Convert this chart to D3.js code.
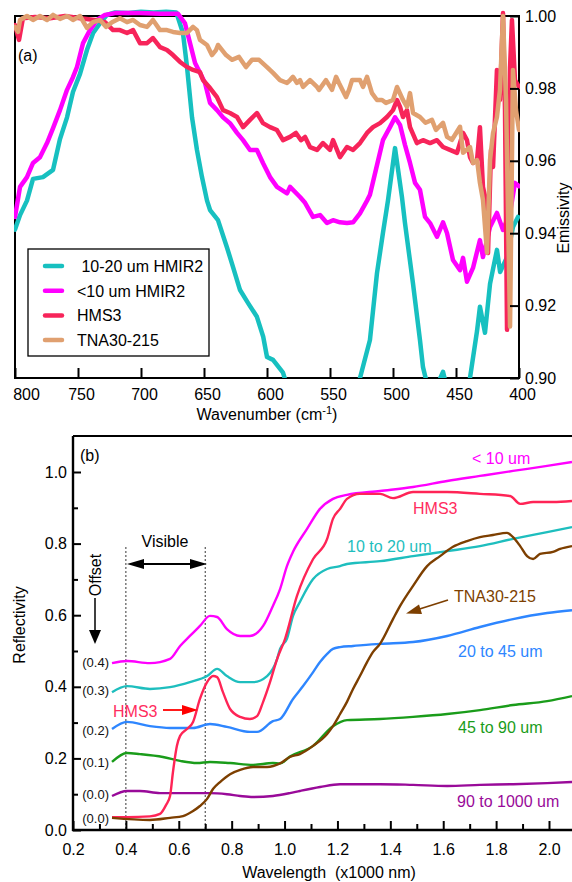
<!DOCTYPE html>
<html>
<head>
<meta charset="utf-8">
<script src="https://cdn.jsdelivr.net/npm/d3@7"></script>
<style>
  body { margin: 0; background: #fff; }
  svg { display: block; font-family: "Liberation Sans", Arial, sans-serif; }
</style>
</head>
<body>
<svg id="chart" width="572" height="882"></svg>
<script>
// ---- panel (a): emissivity vs wavenumber ----
const tealWn = [800,796,790.5,785.7,777.8,769.8,764.3,758.7,754,748.4,742.9,738,732.5,727,720.6,710,700,690,680,672,666.7,663.5,659.5,655.6,651.6,647.6,645.2,638.9,631.7,627,621.4,615,608,603,600,595.2,587.3,581.7,550,526.2,518.3,512.7,508,504,498.4,492.9,490.5,484.1,478.6,476.2,470.6,465,460.3,457,446.8,438.9,433.3,431,427,423,417.5,415,409.5,404.8,400.8];
const tealEm = [0.941,0.945,0.949,0.955,0.9555,0.9575,0.966,0.972,0.979,0.984,0.9906,0.9953,0.998,1.0003,1.001,1.0008,1.0012,1.001,1.0012,1.001,0.9953,0.986,0.972,0.963,0.9555,0.949,0.9464,0.9436,0.936,0.9307,0.9243,0.9207,0.9169,0.9114,0.9058,0.905,0.9015,0.895,0.88,0.900,0.9105,0.929,0.940,0.949,0.9635,0.950,0.9428,0.926,0.9105,0.903,0.895,0.898,0.9017,0.897,0.893,0.900,0.913,0.9197,0.9125,0.926,0.9354,0.9293,0.9334,0.9417,0.9445];

const magWn = [800,796,790.5,785.7,780.2,774.6,769.8,764.3,758.7,754,750.8,746,740.5,734.9,728.6,720.6,700.8,684.9,670.6,665.1,661.1,657.1,653.2,649.2,645.2,639.7,634.9,629.4,623.8,619,613.5,608,603.2,597.6,592.1,584.1,581.7,573.8,569.8,563.5,557.9,552.4,547.6,542.1,536.5,531.7,526.2,520.6,518.3,512.7,508,502.4,498.4,494.4,490.5,486.5,482.5,478.6,474.6,470.6,465.1,460.3,457.1,452.4,446.8,444.4,441.3,436.5,431,428.6,423,417.5,412.7,407.1,403.2,400];
const magEm = [0.9445,0.9528,0.9555,0.9594,0.961,0.9649,0.969,0.974,0.9796,0.9831,0.9859,0.9925,0.9961,0.9989,1.0003,1.0008,1.0008,1.0006,1.0006,0.998,0.9925,0.987,0.9843,0.9815,0.976,0.974,0.972,0.9704,0.9677,0.9657,0.963,0.963,0.9594,0.9555,0.9528,0.951,0.9528,0.950,0.9484,0.9445,0.945,0.9428,0.9436,0.943,0.9428,0.943,0.9455,0.949,0.9506,0.9588,0.9657,0.9693,0.972,0.9699,0.9644,0.9594,0.9539,0.952,0.9445,0.9428,0.939,0.943,0.940,0.9326,0.9298,0.9332,0.9266,0.9304,0.9381,0.9334,0.9417,0.9456,0.9409,0.9456,0.9539,0.953];

const hmsWn = [800,796.8,793.7,784.1,772.2,760.3,748.4,736.5,728.6,722.2,716.7,711.1,706.3,700.8,695.2,690.5,684.9,679.4,674.6,669,663.5,658.7,653.2,650.8,645.2,639.7,634.9,629.4,623.8,619,613.5,608,603.2,597.6,592.1,587.3,581.7,577,573,569.8,565.9,560.3,555.6,550,547.6,542.1,536.5,531.7,526.2,520.6,515.9,510.3,504.8,500,496.8,494.4,492.1,488.9,486.5,481,476.2,470.6,465.1,460.3,454.8,449.2,444.4,441.3,438.9,436.5,433.3,431,428.6,426.2,424.6,422.2,420.6,417.5,415.1,412.7,411.1,409.5,407.1,405.6,403.2,400];
const hmsEm = [0.9975,0.9934,0.9994,0.9997,0.9994,1.000,0.9994,0.9989,0.9983,0.9961,0.9961,0.9953,0.9961,0.9925,0.9925,0.9939,0.9914,0.9906,0.9892,0.9873,0.9859,0.9851,0.9845,0.9823,0.9801,0.9776,0.974,0.9732,0.9721,0.9693,0.9713,0.9732,0.9704,0.9693,0.9685,0.9657,0.9666,0.9677,0.9657,0.9666,0.9638,0.963,0.9649,0.963,0.9657,0.961,0.9638,0.963,0.9649,0.9677,0.9693,0.9704,0.9721,0.974,0.9768,0.9749,0.9721,0.974,0.9693,0.9649,0.9657,0.9649,0.9657,0.9638,0.963,0.9622,0.9677,0.9657,0.961,0.9594,0.9602,0.9693,0.9528,0.949,0.9345,0.963,0.9583,0.9851,0.9768,1.0008,0.974,0.9133,0.9859,0.9989,0.9823,0.9804];

const tnaWn = [800,797.6,796,790.5,785.7,780.2,774.6,769.8,764.3,758.7,754,748.4,742.9,738.1,732.5,727.8,723,716.7,711.1,706.3,700.8,695.2,690.5,684.9,679.4,674.6,669,663.5,658.7,655.6,653.2,647.6,643.7,640.5,638.9,632.5,627.8,622.2,616.7,611.9,606.3,600,595.2,589.7,584.1,581.7,579.4,576.2,573.8,571.4,565.9,560.3,558.7,553.2,548.4,545.2,542.9,537.3,534.9,532.5,526.2,523.8,520.6,516.7,512.7,508.7,505.6,500,496.8,492.1,488.9,486.5,484.1,478.6,474.2,469.1,465.9,460.3,457.1,453.2,446.8,444.4,438.9,436.5,433.3,431,428.6,425.4,423,420.6,417.5,415.1,412.7,410.3,407.1,404.8,402.4,400];
const tnaEm = [0.997,0.9956,0.9989,1.000,0.9989,1.000,0.9989,1.0003,0.9992,1.000,0.9989,1.000,0.9967,0.9983,0.9989,0.997,0.9983,0.9994,0.9983,0.9989,0.9975,0.997,0.9989,0.9961,0.9961,0.9956,0.9953,0.9953,0.997,0.9961,0.9934,0.992,0.9892,0.9906,0.992,0.9892,0.9879,0.9887,0.9859,0.9879,0.9879,0.9859,0.9843,0.9823,0.9815,0.9823,0.9832,0.9815,0.9823,0.9804,0.9823,0.9804,0.9796,0.9823,0.9796,0.9832,0.9815,0.9776,0.9796,0.9823,0.9823,0.9804,0.9832,0.9787,0.9768,0.9768,0.976,0.9768,0.9804,0.9768,0.9749,0.9787,0.9732,0.9721,0.9705,0.9713,0.9685,0.9705,0.9666,0.9658,0.9694,0.9622,0.9638,0.9594,0.9602,0.9539,0.9492,0.9346,0.9602,0.9677,0.9721,0.9796,1.000,0.9768,0.9142,0.9851,0.974,0.9685];

const legendNames = [' 10-20 um HMIR2', '<10 um HMIR2', 'HMS3', 'TNA30-215'];
const wnTicks = [800, 750, 700, 650, 600, 550, 500, 450, 400];
const emTicks = [0.90, 0.92, 0.94, 0.96, 0.98, 1.00];

// ---- panel (b): reflectivity vs wavelength (x1000 nm) ----
const magWl = [0.3475,0.404,0.491,0.567,0.605,0.642,0.680,0.718,0.745,0.782,0.832,0.869,0.919,0.956,0.983,1.009,1.032,1.085,1.134,1.183,1.236,1.361,1.486,1.615,1.739,1.864,1.993,2.087];
const magR  = [0.466,0.472,0.466,0.478,0.514,0.542,0.570,0.598,0.595,0.561,0.542,0.542,0.570,0.626,0.673,0.737,0.777,0.841,0.897,0.925,0.936,0.947,0.958,0.975,0.989,1.003,1.017,1.028];

const hmsWl = [0.3475,0.404,0.491,0.529,0.552,0.567,0.578,0.593,0.605,0.631,0.654,0.680,0.707,0.730,0.745,0.767,0.794,0.832,0.869,0.896,0.919,0.945,0.972,1.002,1.047,1.108,1.161,1.183,1.210,1.236,1.285,1.361,1.410,1.486,1.615,1.739,1.853,1.891,1.940,2.015,2.087];
const hmsR  = [0.036,0.036,0.038,0.045,0.070,0.095,0.162,0.235,0.263,0.282,0.302,0.366,0.413,0.430,0.427,0.385,0.338,0.316,0.310,0.318,0.358,0.413,0.478,0.534,0.654,0.757,0.813,0.869,0.897,0.925,0.939,0.939,0.927,0.944,0.944,0.939,0.933,0.911,0.916,0.916,0.919];

const tealWl = [0.3475,0.404,0.491,0.567,0.642,0.707,0.745,0.782,0.832,0.881,0.934,0.972,0.983,1.009,1.032,1.058,1.108,1.161,1.210,1.236,1.361,1.486,1.615,1.739,1.864,1.993,2.087];
const tealR  = [0.385,0.402,0.394,0.399,0.413,0.430,0.450,0.430,0.413,0.413,0.430,0.478,0.506,0.534,0.598,0.637,0.701,0.729,0.737,0.743,0.751,0.765,0.779,0.793,0.813,0.832,0.846];

const blueWl = [0.3475,0.404,0.491,0.567,0.654,0.718,0.782,0.869,0.896,0.956,0.983,1.032,1.070,1.108,1.134,1.161,1.183,1.210,1.259,1.361,1.486,1.615,1.739,1.864,1.993,2.087];
const blueR  = [0.282,0.302,0.290,0.285,0.285,0.296,0.288,0.274,0.274,0.304,0.310,0.366,0.402,0.441,0.469,0.492,0.506,0.511,0.514,0.520,0.525,0.542,0.567,0.589,0.606,0.614];

const greenWl = [0.3475,0.404,0.453,0.540,0.605,0.669,0.718,0.794,0.881,0.956,0.983,1.020,1.108,1.183,1.236,1.361,1.486,1.615,1.739,1.864,1.993,2.087];
const greenR  = [0.190,0.215,0.212,0.204,0.193,0.187,0.190,0.187,0.182,0.187,0.186,0.205,0.235,0.290,0.307,0.310,0.316,0.324,0.335,0.349,0.360,0.374];

const purpWl = [0.3475,0.404,0.453,0.529,0.631,0.718,0.782,0.832,0.881,0.956,1.020,1.058,1.134,1.210,1.361,1.486,1.615,1.739,1.864,1.993,2.087];
const purpR  = [0.095,0.109,0.109,0.103,0.103,0.103,0.100,0.095,0.092,0.095,0.103,0.109,0.120,0.128,0.128,0.126,0.123,0.126,0.128,0.131,0.134];

const tnaWl = [0.3475,0.491,0.567,0.616,0.654,0.680,0.707,0.730,0.756,0.794,0.832,0.881,0.934,0.983,1.020,1.058,1.108,1.161,1.183,1.210,1.236,1.259,1.285,1.312,1.334,1.361,1.410,1.437,1.486,1.539,1.588,1.637,1.690,1.739,1.788,1.841,1.864,1.891,1.917,1.940,1.966,2.015,2.042,2.087];
const tnaR  = [0.034,0.028,0.034,0.039,0.053,0.067,0.087,0.115,0.134,0.156,0.168,0.176,0.176,0.186,0.204,0.212,0.235,0.268,0.290,0.324,0.358,0.394,0.430,0.469,0.497,0.520,0.589,0.626,0.682,0.737,0.765,0.791,0.807,0.818,0.824,0.830,0.818,0.793,0.765,0.757,0.771,0.777,0.785,0.793];

const offsetLabels = ['(0.4)', '(0.3)', '(0.2)', '(0.1)', '(0.0)', '(0.0)'];
const wlTicks = [0.2, 0.4, 0.6, 0.8, 1.0, 1.2, 1.4, 1.6, 1.8, 2.0];
const wlMinor = [0.3, 0.5, 0.7, 0.9, 1.1, 1.3, 1.5, 1.7, 1.9];
const rTicks = [0.0, 0.2, 0.4, 0.6, 0.8, 1.0];
const rMinor = [0.1, 0.3, 0.5, 0.7, 0.9];

const zip = (a, b) => a.map((v, i) => [v, b[i]]);

const svg = d3.select('#chart');
const defs = svg.append('defs');

// ============ panel (a) ============
const xA = d3.scaleLinear().domain([800, 400]).range([15, 519]);
const yA = d3.scaleLinear().domain([0.90, 1.00]).range([378, 16]);

defs.append('clipPath').attr('id', 'clipA')
  .append('rect').attr('x', 14).attr('y', 0).attr('width', 506).attr('height', 378);

const gA = svg.append('g');

gA.append('rect')
  .attr('x', 15).attr('y', 16).attr('width', 504).attr('height', 362)
  .attr('fill', 'none').attr('stroke', '#000').attr('stroke-width', 2);

const seriesA = [
  { color: '#17c0c0', data: zip(tealWn, tealEm) },
  { color: '#ff00ff', data: zip(magWn, magEm) },
  { color: '#f7245a', data: zip(hmsWn, hmsEm) },
  { color: '#e0a070', data: zip(tnaWn, tnaEm) }
];

const lineA = d3.line().x(d => xA(d[0])).y(d => yA(d[1]));

gA.append('g').attr('clip-path', 'url(#clipA)')
  .selectAll('path')
  .data(seriesA)
  .join('path')
  .attr('d', d => lineA(d.data))
  .attr('fill', 'none')
  .attr('stroke', d => d.color)
  .attr('stroke-width', 4.5)
  .attr('stroke-linejoin', 'round')
  .attr('stroke-linecap', 'round');

const axA = gA.append('g')
  .attr('transform', 'translate(0,378)')
  .call(d3.axisBottom(xA).tickValues(wnTicks).tickFormat(d3.format('d'))
    .tickSizeInner(-10).tickSizeOuter(0).tickPadding(11));
axA.select('.domain').remove();
axA.selectAll('line').attr('stroke-width', 2);
axA.selectAll('text')
  .attr('font-size', 16).attr('fill', '#000')
  .attr('font-family', '"Liberation Sans", Arial, sans-serif')
  .attr('dx', d => d === 800 ? 11 : 3);

const ayA = gA.append('g')
  .attr('transform', 'translate(519,0)')
  .call(d3.axisRight(yA).tickValues(emTicks).tickFormat(d3.format('.2f'))
    .tickSizeInner(-9).tickSizeOuter(0).tickPadding(6));
ayA.select('.domain').remove();
ayA.selectAll('line').attr('stroke-width', 2);
ayA.selectAll('text')
  .attr('font-size', 16).attr('fill', '#000')
  .attr('font-family', '"Liberation Sans", Arial, sans-serif');

gA.append('text')
  .attr('transform', 'translate(563,218) rotate(-90)')
  .attr('text-anchor', 'middle').attr('dominant-baseline', 'central')
  .attr('font-size', 16).text('Emissivity');

const xTitleA = gA.append('text')
  .attr('x', 267).attr('y', 420)
  .attr('text-anchor', 'middle').attr('font-size', 16);
xTitleA.append('tspan').text('Wavenumber (cm');
xTitleA.append('tspan').attr('font-size', 11).attr('dy', -6).text('-1');
xTitleA.append('tspan').attr('dy', 6).text(')');

gA.append('text').attr('x', 18).attr('y', 61).attr('font-size', 16).text('(a)');

// legend
const leg = gA.append('g');
leg.append('rect')
  .attr('x', 28).attr('y', 249).attr('width', 181).attr('height', 107)
  .attr('fill', '#fff').attr('stroke', '#000').attr('stroke-width', 1.3);
const legRows = leg.selectAll('g.row')
  .data(seriesA.map((s, i) => ({ color: s.color, name: legendNames[i], y: 266 + i * 24.7 })))
  .join('g').attr('class', 'row');
legRows.append('line')
  .attr('x1', 45).attr('x2', 62).attr('y1', d => d.y).attr('y2', d => d.y)
  .attr('stroke', d => d.color).attr('stroke-width', 4.5).attr('stroke-linecap', 'round');
legRows.append('text')
  .attr('x', 77).attr('y', d => d.y + 6)
  .attr('font-size', 16).attr('xml:space', 'preserve')
  .style('white-space', 'pre')
  .text(d => d.name);

// ============ panel (b) ============
const xB = d3.scaleLinear().domain([0.2, 2.0]).range([73, 549]);
const yB = d3.scaleLinear().domain([0, 1.0]).range([830, 472]);

defs.append('clipPath').attr('id', 'clipB')
  .append('rect').attr('x', 73).attr('y', 436).attr('width', 499).attr('height', 394);

const gB = svg.append('g');

// visible band markers
gB.selectAll('line.vis')
  .data([0.4, 0.7])
  .join('line').attr('class', 'vis')
  .attr('x1', d => xB(d)).attr('x2', d => xB(d))
  .attr('y1', 547).attr('y2', 830)
  .attr('stroke', '#000').attr('stroke-width', 0.8).attr('stroke-dasharray', '2,2');

const seriesB = [
  { color: '#ff00ff', data: zip(magWl, magR) },
  { color: '#1ebebe', data: zip(tealWl, tealR) },
  { color: '#2e86ff', data: zip(blueWl, blueR) },
  { color: '#1a9c1a', data: zip(greenWl, greenR) },
  { color: '#990a99', data: zip(purpWl, purpR) },
  { color: '#ff2456', data: zip(hmsWl, hmsR) },
  { color: '#7d3f00', data: zip(tnaWl, tnaR) }
];

const lineB = d3.line().x(d => xB(d[0])).y(d => yB(d[1])).curve(d3.curveMonotoneX);

gB.append('g').attr('clip-path', 'url(#clipB)')
  .selectAll('path')
  .data(seriesB)
  .join('path')
  .attr('d', d => lineB(d.data))
  .attr('fill', 'none')
  .attr('stroke', d => d.color)
  .attr('stroke-width', 2.4)
  .attr('stroke-linejoin', 'round');

// frame
gB.append('line').attr('x1', 73).attr('x2', 572).attr('y1', 436).attr('y2', 436)
  .attr('stroke', '#000').attr('stroke-width', 1.8);
gB.append('line').attr('x1', 73).attr('x2', 73).attr('y1', 436).attr('y2', 831)
  .attr('stroke', '#000').attr('stroke-width', 2.4);
gB.append('line').attr('x1', 72).attr('x2', 572).attr('y1', 830).attr('y2', 830)
  .attr('stroke', '#000').attr('stroke-width', 2.4);

function styleAxis(g) {
  g.select('.domain').remove();
  g.selectAll('line').attr('stroke-width', 2);
  g.selectAll('text')
    .attr('font-size', 16).attr('fill', '#000')
    .attr('font-family', '"Liberation Sans", Arial, sans-serif');
}

const axBminor = gB.append('g').attr('transform', 'translate(0,830)')
  .call(d3.axisBottom(xB).tickValues(wlMinor).tickFormat('').tickSizeInner(-6).tickSizeOuter(0));
styleAxis(axBminor);
const axB = gB.append('g').attr('transform', 'translate(0,830)')
  .call(d3.axisBottom(xB).tickValues(wlTicks).tickFormat(d3.format('.1f'))
    .tickSizeInner(-9).tickSizeOuter(0).tickPadding(14));
styleAxis(axB);

const ayBminor = gB.append('g').attr('transform', 'translate(73,0)')
  .call(d3.axisLeft(yB).tickValues(rMinor).tickFormat('').tickSizeInner(-5).tickSizeOuter(0));
styleAxis(ayBminor);
const ayB = gB.append('g').attr('transform', 'translate(73,0)')
  .call(d3.axisLeft(yB).tickValues(rTicks).tickFormat(d3.format('.1f'))
    .tickSizeInner(-8).tickSizeOuter(0).tickPadding(6));
styleAxis(ayB);

gB.append('text')
  .attr('transform', 'translate(19,625) rotate(-90)')
  .attr('text-anchor', 'middle').attr('dominant-baseline', 'central')
  .attr('font-size', 16).text('Reflectivity');

gB.append('text')
  .attr('x', 329).attr('y', 878).attr('text-anchor', 'middle')
  .attr('font-size', 16).style('white-space', 'pre')
  .text('Wavelength  (x1000 nm)');

gB.append('text').attr('x', 80).attr('y', 461).attr('font-size', 16).text('(b)');

// offset labels at left of each curve
const offsetY = [667, 695, 735, 767, 799, 823];
gB.selectAll('text.off')
  .data(offsetLabels)
  .join('text').attr('class', 'off')
  .attr('x', 109).attr('y', (d, i) => offsetY[i])
  .attr('text-anchor', 'end').attr('font-size', 13).attr('fill', '#111')
  .text(d => d);

// "Offset" arrow
gB.append('text')
  .attr('transform', 'translate(95,575) rotate(-90)')
  .attr('text-anchor', 'middle').attr('dominant-baseline', 'central')
  .attr('font-size', 16).text('Offset');
gB.append('line').attr('x1', 95).attr('x2', 95).attr('y1', 598).attr('y2', 632)
  .attr('stroke', '#000').attr('stroke-width', 1.5);
gB.append('path').attr('d', 'M89,630 L101,630 L95,644 Z').attr('fill', '#000');

// "Visible" double arrow
gB.append('text').attr('x', 165).attr('y', 547).attr('text-anchor', 'middle')
  .attr('font-size', 16).text('Visible');
gB.append('line').attr('x1', 140).attr('x2', 194).attr('y1', 564).attr('y2', 564)
  .attr('stroke', '#000').attr('stroke-width', 1.8);
gB.append('path').attr('d', 'M127,564 L144,559 L144,569 Z').attr('fill', '#000');
gB.append('path').attr('d', 'M207,564 L190,559 L190,569 Z').attr('fill', '#000');

// series labels
const seriesLabels = [
  { t: '< 10 um', x: 472, y: 464, c: '#ff00ff' },
  { t: 'HMS3', x: 413, y: 514, c: '#ff2c5e' },
  { t: '10 to 20 um', x: 347, y: 552, c: '#1ebebe' },
  { t: 'TNA30-215', x: 454, y: 602, c: '#7d3f00' },
  { t: '20 to 45 um', x: 458, y: 657, c: '#2e86ff' },
  { t: '45 to 90 um', x: 458, y: 733, c: '#1a9c1a' },
  { t: '90 to 1000 um', x: 457, y: 807, c: '#990a99' },
  { t: 'HMS3', x: 113, y: 717, c: '#ff2c5e' }
];
gB.selectAll('text.lab')
  .data(seriesLabels)
  .join('text').attr('class', 'lab')
  .attr('x', d => d.x).attr('y', d => d.y)
  .attr('fill', d => d.c).attr('font-size', 16)
  .text(d => d.t);

// HMS3 red arrow
gB.append('line').attr('x1', 163).attr('x2', 184).attr('y1', 710).attr('y2', 710)
  .attr('stroke', '#ff0000').attr('stroke-width', 1.8);
gB.append('path').attr('d', 'M198,710 L182,705 L182,715 Z').attr('fill', '#ff0000');

// TNA30-215 arrow
gB.append('line').attr('x1', 448).attr('x2', 418).attr('y1', 600).attr('y2', 609.5)
  .attr('stroke', '#7d3f00').attr('stroke-width', 1.8);
gB.append('path').attr('d', 'M406,613.5 L419,604.5 L422,614 Z').attr('fill', '#7d3f00');
</script>
</body>
</html>
